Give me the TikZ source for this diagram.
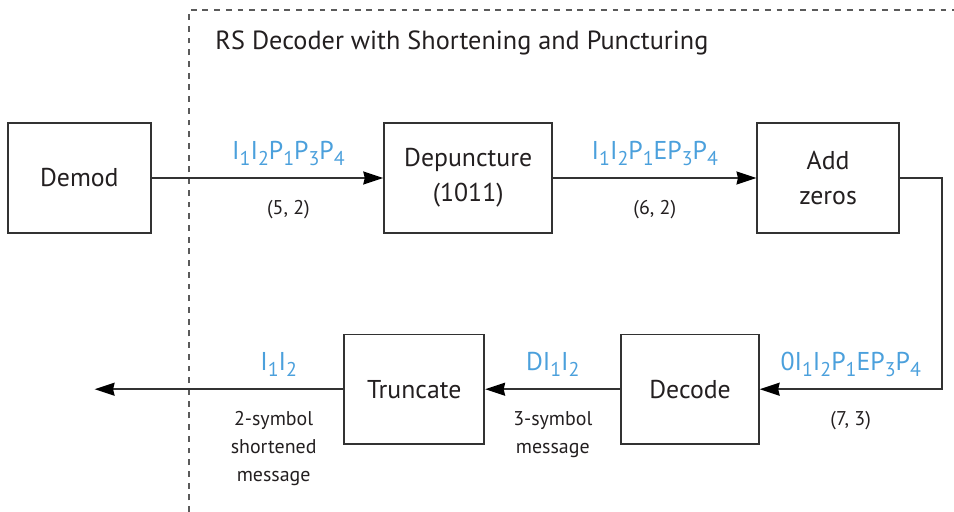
\documentclass[tikz,border=0pt]{standalone}
\usepackage{fontspec}
\setmainfont{PT Sans}
\usepackage{tikz}
\usetikzlibrary{arrows.meta, positioning}
\definecolor{linegray}{RGB}{50,50,50}
\definecolor{textgray}{RGB}{35,31,32}
\definecolor{symblue}{RGB}{75,160,220}
\definecolor{framegray}{RGB}{90,90,90}
\newcommand{\sy}[2]{#1\raisebox{-0.45ex}{\fontsize{8.5}{9}\selectfont #2}}
\tikzset{
  blockbox/.style={
    draw=linegray, line width=0.8pt, minimum height=1.64cm,
    align=center, font=\fontsize{11}{15}\selectfont\color{textgray}
  },
  sigarrow/.style={
    -{Stealth[length=8.5pt,width=5.5pt,inset=0.6pt,color=black]},
    draw=linegray, line width=0.85pt
  },
  symlabel/.style={
    font=\fontsize{11}{13}\selectfont\color{symblue}, inner sep=2pt
  },
  notelabel/.style={
    font=\fontsize{8.5}{12}\selectfont\color{textgray}, align=center, inner sep=2pt
  },
  framebox/.style={
    draw=framegray, dashed, dash pattern=on 2.5pt off 2.5pt, line width=0.6pt
  },
  frametitle/.style={
    font=\fontsize{11.2}{13}\selectfont\color{textgray}, inner sep=0pt
  },
}
\begin{document}
\begin{tikzpicture}
    \useasboundingbox (0,0) rectangle (14.31,-7.68);

    %% decoder frame
    \draw[framebox] (2.835,-7.68) -- (2.835,-0.15) -- (14.31,-0.15);
    \node[frametitle, anchor=west] (title) at (3.225,-0.65)
      {RS Decoder with Shortening and Puncturing};

    %% top row
    \node[blockbox, minimum width=2.15cm] (demod) at (1.19,-2.67) {Demod};
    \node[blockbox, minimum width=2.52cm, right=3.47cm of demod] (depunct)
      {Depuncture\\(1011)};
    \node[blockbox, minimum width=2.12cm, right=3.05cm of depunct] (addzeros)
      {Add\\zeros};

    %% bottom row
    \node[blockbox, minimum width=2.06cm, below=1.5cm of addzeros, xshift=-2.07cm] (decode)
      {Decode};
    \node[blockbox, minimum width=2.1cm, left=2.03cm of decode] (truncate)
      {Truncate};
    \coordinate[left=3.73cm of truncate.west] (out);

    \draw[sigarrow] (demod.east) -- (depunct.west)
      node[symlabel, above=3pt, pos=0.59]
        {\sy{I}{1}\sy{I}{2}\sy{P}{1}\sy{P}{3}\sy{P}{4}}
      node[notelabel, below=7pt, pos=0.59] {(5, 2)};
    \draw[sigarrow] (depunct.east) -- (addzeros.west)
      node[symlabel, above=3pt, midway]
        {\sy{I}{1}\sy{I}{2}\sy{P}{1}E\sy{P}{3}\sy{P}{4}}
      node[notelabel, below=7pt, midway] {(6, 2)};

    \draw[sigarrow] (addzeros.east) -- ++(0.63,0) |- (decode.east)
      node[symlabel, above=3pt, pos=0.75]
        {0\sy{I}{1}\sy{I}{2}\sy{P}{1}E\sy{P}{3}\sy{P}{4}}
      node[notelabel, below=7pt, pos=0.75] {(7, 3)};
    \draw[sigarrow] (decode.west) -- (truncate.east)
      node[symlabel, above=3pt, midway] {D\sy{I}{1}\sy{I}{2}}
      node[notelabel, below=7pt, midway] {3-symbol\\message};
    \draw[sigarrow] (truncate.west) -- (out)
      node[symlabel, above=3pt, pos=0.26] {\sy{I}{1}\sy{I}{2}}
      node[notelabel, below=7pt, pos=0.28] {2-symbol\\shortened\\message};

  \end{tikzpicture}
\end{document}
